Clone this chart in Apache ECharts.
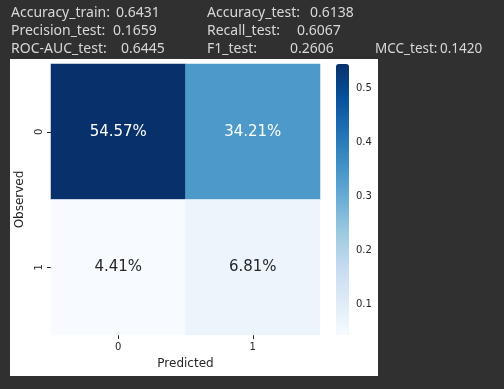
<!DOCTYPE html>
<html><head><meta charset="utf-8">
<script src="https://cdn.jsdelivr.net/npm/echarts@6/dist/echarts.min.js"></script>
<style>html,body{margin:0;padding:0;background:#303030;}#c{width:504px;height:389px;}</style>
</head><body><div id="c"></div>
<script>
const predictedCats = ['0', '1'];
const observedCats = ['0', '1'];
// [predictedIndex, observedIndex, share]
const cellValues = [
  [0, 0, 0.5457],
  [1, 0, 0.3421],
  [0, 1, 0.0441],
  [1, 1, 0.0681]
];
const colorbarTicks = [0.1, 0.2, 0.3, 0.4, 0.5];
const metricNames = ['Accuracy_train:', 'Accuracy_test:', 'Precision_test:', 'Recall_test:', 'ROC-AUC_test:', 'F1_test:', 'MCC_test:'];
const metricValues = ['0.6431', '0.6138', '0.1659', '0.6067', '0.6445', '0.2606', '0.1420'];
// layout of the header text (x of label, x of value, y, font size)
const metricPos = [[11,116,13,14],[207,310,13,14],[11,113,31,14],[207,297,31,14],[11,121,49,14],[207,290,49,14],[375,440,49,13.5]];

const blues = ['#f7fbff','#deebf7','#c6dbef','#9ecae1','#6baed6','#4292c6','#2171b5','#08519c','#08306b'];
const vmin = Math.min(...cellValues.map(d => d[2]));
const vmax = Math.max(...cellValues.map(d => d[2]));
const hdrFont = '"Noto Sans", sans-serif';
const graphics = [{type:'rect', shape:{x:10,y:59,width:368,height:317}, style:{fill:'#ffffff'}, z:-10}];
metricNames.forEach((n,i) => {
  const p = metricPos[i];
  graphics.push({type:'text', x:p[0], y:p[2], style:{text:n, fill:'#d8d8d8', font:p[3]+'px '+hdrFont, textVerticalAlign:'middle'}});
  graphics.push({type:'text', x:p[1], y:p[2], style:{text:metricValues[i], fill:'#d8d8d8', font:p[3]+'px '+hdrFont, textVerticalAlign:'middle'}});
});

const chart = echarts.init(document.getElementById('c'));
chart.setOption({
  backgroundColor: '#303030',
  animation: false,
  textStyle: {fontFamily: '"DejaVu Sans", sans-serif'},
  graphic: graphics,
  grid: [
    {left: 51, top: 64, width: 269, height: 271},
    {left: 336, top: 64, width: 13, height: 271}
  ],
  xAxis: [
    {type:'category', gridIndex:0, data: predictedCats, position:'bottom',
     name:'Predicted', nameLocation:'middle', nameGap:23, nameTextStyle:{color:'#262626', fontSize:12},
     axisLine:{show:false}, splitLine:{show:false},
     axisTick:{show:true, alignWithLabel:true, length:4, lineStyle:{color:'#262626'}},
     axisLabel:{color:'#262626', fontSize:10, margin:7}},
    {type:'value', gridIndex:1, show:false, min:0, max:1}
  ],
  yAxis: [
    {type:'category', gridIndex:0, data: observedCats, inverse:true,
     name:'Observed', nameLocation:'middle', nameGap:22, nameRotate:90, nameTextStyle:{color:'#262626', fontSize:12},
     axisLine:{show:false}, splitLine:{show:false},
     axisTick:{show:true, alignWithLabel:true, length:4, lineStyle:{color:'#262626'}},
     axisLabel:{color:'#262626', fontSize:10, rotate:90, margin:7}},
    {type:'value', gridIndex:1, position:'right', min:vmin, max:vmax,
     axisLine:{show:false}, splitLine:{show:false},
     axisTick:{show:true, length:4, customValues: colorbarTicks, lineStyle:{color:'#262626'}},
     axisLabel:{color:'#262626', fontSize:10, margin:7, customValues: colorbarTicks, formatter: v => v.toFixed(1)}}
  ],
  visualMap: {
    type:'continuous', min: vmin, max: vmax, calculable:false, seriesIndex:0,
    inRange:{color: blues}, orient:'vertical', left:336, top:64,
    itemWidth:13, itemHeight:271, text:['',''], showLabel:false, padding:0, textGap:0
  },
  series: [{
    type:'heatmap', xAxisIndex:0, yAxisIndex:0,
    data: cellValues.map(d => ({value:d, label:{color: (d[2]-vmin)/(vmax-vmin) > 0.5 ? '#ffffff' : '#262626'}})),
    label:{show:true, fontSize:15, formatter: p => (p.value[2]*100).toFixed(2)+'%'},
    itemStyle:{borderWidth:0},
    emphasis:{disabled:true}
  }]
});
</script></body></html>
